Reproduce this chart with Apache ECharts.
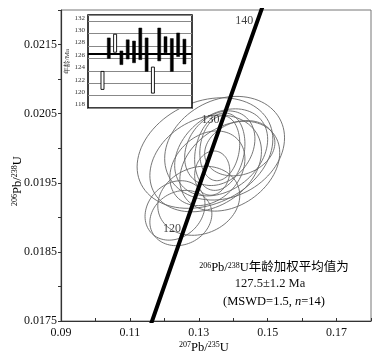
<!DOCTYPE html>
<html><head><meta charset="utf-8">
<script src="https://cdn.jsdelivr.net/npm/echarts@6/dist/echarts.min.js"></script>
<style>html,body{margin:0;padding:0;background:#fff}#c{width:386px;height:358px}</style>
</head><body><div id="c"></div>
<script>
// Error ellipses: centre (207Pb/235U, 206Pb/238U), half-widths, correlation
const ellCX  = [0.1318, 0.1375, 0.1320, 0.1365, 0.1361, 0.1361, 0.1361, 0.1339, 0.1325, 0.1300, 0.1248, 0.1231, 0.1390, 0.1419];
const ellCY  = [0.01993, 0.02000, 0.01978, 0.01994, 0.02000, 0.01995, 0.02000, 0.01964, 0.01971, 0.01924, 0.01899, 0.01910, 0.01974, 0.02000];
const ellSX  = [0.0197, 0.0174, 0.0162, 0.0135, 0.0102, 0.0073, 0.0058, 0.0051, 0.0109, 0.0119, 0.0090, 0.0087, 0.0145, 0.0102];
const ellSY  = [0.00080, 0.00075, 0.00070, 0.00063, 0.00054, 0.00056, 0.00047, 0.00032, 0.00054, 0.00050, 0.00040, 0.00043, 0.00065, 0.00040];
const ellRho = [0.25, 0.2, 0.25, 0.3, 0.25, 0.2, 0.15, 0.1, 0.25, 0.15, 0.15, 0.2, 0.3, 0.2];

// Concordia points (age in Ma)
const concAges = [110, 120, 130, 140, 150];
const concX = [0.11442, 0.12545, 0.13659, 0.14784, 0.15920];
const concY = [0.017210, 0.018789, 0.020371, 0.021955, 0.023542];
const concLabelAges = [120, 130, 140];

// Inset: 206Pb/238U ages per spot (Ma)
const spotLow  = [121.0, 126.0, 127.0, 125.0, 125.9, 125.3, 125.8, 123.9, 120.4, 125.6, 126.9, 123.9, 126.3, 125.1];
const spotHigh = [123.9, 129.3, 129.9, 127.2, 129.0, 128.8, 130.9, 129.3, 124.6, 130.9, 129.5, 129.2, 130.1, 129.1];
const spotHollow = [1, 0, 1, 0, 0, 0, 0, 0, 1, 0, 0, 0, 0, 0];
const meanAge = 126.8;

const xTicks = [0.09, 0.11, 0.13, 0.15, 0.17];
const yTicks = [0.0175, 0.0185, 0.0195, 0.0205, 0.0215];
const insetTicks = [118, 120, 122, 124, 126, 128, 130, 132];

const FONT = '"Liberation Serif", "Times New Roman", serif';
const chart = echarts.init(document.getElementById('c'), null, {renderer: 'canvas'});

const ellData = ellCX.map((v, i) => [v, ellCY[i], ellSX[i], ellSY[i], ellRho[i]]);
const concData = concX.map((v, i) => [v, concY[i]]);
const concLabelData = concLabelAges.map(a => {
  const i = concAges.indexOf(a);
  return [concX[i], concY[i], a];
});
const barData = spotLow.map((v, i) => [i + 1, v, spotHigh[i], spotHollow[i]]);

const sup = {fontSize: 8, fontFamily: FONT, color: '#111', verticalAlign: 'top', padding: [0, 0, 5, 0]};
const base = {fontSize: 12.5, fontFamily: FONT, color: '#111'};

chart.setOption({
  animation: false,
  grid: [
    {left: 61, right: 15, top: 10, bottom: 37, show: true, borderColor: '#777', borderWidth: 1},
    {left: 88, top: 15, width: 104, height: 93, show: true, backgroundColor: '#fff', borderColor: '#000', borderWidth: 1.5, z: 10}
  ],
  xAxis: [
    {type: 'value', gridIndex: 0, min: 0.09, max: 0.18, interval: 0.01,
     axisLine: {show: true, onZero: false, lineStyle: {color: '#333', width: 1.2}},
     axisTick: {show: true, inside: true, length: 3, lineStyle: {color: '#333'}},
     splitLine: {show: false},
     axisLabel: {fontFamily: FONT, fontSize: 12, color: '#111', margin: 6,
       formatter: v => { const r = Math.round(v * 100) / 100; return xTicks.some(t => Math.abs(t - r) < 1e-9) ? r.toFixed(2) : ''; }}},
    {type: 'value', gridIndex: 1, min: -1.3, max: 15.2, show: false, z: 10}
  ],
  yAxis: [
    {type: 'value', gridIndex: 0, min: 0.0175, max: 0.022, interval: 0.0005,
     axisLine: {show: true, onZero: false, lineStyle: {color: '#333', width: 1.2}},
     axisTick: {show: true, inside: false, length: 3, lineStyle: {color: '#333'}},
     splitLine: {show: false},
     axisLabel: {fontFamily: FONT, fontSize: 12, color: '#111', margin: 4,
       formatter: v => { const r = Math.round(v * 10000) / 10000; return yTicks.some(t => Math.abs(t - r) < 1e-9) ? r.toFixed(4) : ''; }}},
    {type: 'value', gridIndex: 1, min: 118, max: 133, interval: 2, z: 10,
     axisLine: {show: false}, axisTick: {show: false},
     splitLine: {show: true, lineStyle: {color: '#888', width: 1.2}},
     name: '年龄/Ma', nameLocation: 'middle', nameRotate: 90, nameGap: 16,
     nameTextStyle: {fontFamily: FONT, fontSize: 7, color: '#333'},
     axisLabel: {fontFamily: FONT, fontSize: 7, color: '#333', margin: 3, verticalAlign: 'bottom',
       formatter: v => insetTicks.indexOf(Math.round(v)) >= 0 && Math.abs(v - Math.round(v)) < 1e-9 ? String(Math.round(v)) : ''}}
  ],
  series: [
    {type: 'custom', xAxisIndex: 0, yAxisIndex: 0, data: ellData, z: 2, clip: true,
     encode: {x: 0, y: 1},
     renderItem: (params, api) => {
       const cx = api.value(0), cy = api.value(1), sx = api.value(2), sy = api.value(3), r = api.value(4);
       const q = Math.sqrt(1 - r * r);
       const pts = [];
       for (let k = 0; k <= 90; k++) {
         const t = k / 90 * Math.PI * 2;
         pts.push(api.coord([cx + sx * Math.cos(t), cy + sy * (r * Math.cos(t) + q * Math.sin(t))]));
       }
       return {type: 'polygon', shape: {points: pts}, style: {fill: null, stroke: '#666', lineWidth: 0.9}};
     }},
    {type: 'line', xAxisIndex: 0, yAxisIndex: 0, data: concData, showSymbol: false, smooth: true, clip: true, z: 3,
     lineStyle: {color: '#000', width: 4}},
    {type: 'scatter', xAxisIndex: 0, yAxisIndex: 0, data: concLabelData, symbolSize: 0, z: 4,
     label: {show: true, position: 'left', distance: 2, fontFamily: FONT, fontSize: 12, color: '#111',
       formatter: p => String(p.value[2])},
     labelLayout: p => {
       if (p.dataIndex === 2) return {dy: 8, dx: -5};
       return {dy: -3, dx: 0};
     }},
    {type: 'custom', xAxisIndex: 1, yAxisIndex: 1, data: barData, z: 12, clip: true,
     encode: {x: 0, y: [1, 2]},
     renderItem: (params, api) => {
       const lo = api.coord([api.value(0), api.value(1)]);
       const hi = api.coord([api.value(0), api.value(2)]);
       const hollow = api.value(3) === 1;
       const w = 3;
       return {type: 'rect', shape: {x: lo[0] - w / 2, y: hi[1], width: w, height: lo[1] - hi[1]},
         style: hollow ? {fill: '#fff', stroke: '#000', lineWidth: 0.9} : {fill: '#000', stroke: '#000', lineWidth: 0.5}};
     },
     markLine: {silent: true, symbol: 'none', label: {show: false}, z: 11,
       lineStyle: {color: '#000', width: 2, type: 'solid'},
       data: [{yAxis: meanAge}]}}
  ],
  graphic: [
    {type: 'text', left: 179, top: 341, z: 20,
     style: {text: '{s|207}{b|Pb/}{s|235}{b|U}', rich: {s: sup, b: base}}},
    {type: 'text', x: 11, y: 206, rotation: Math.PI / 2, z: 20,
     style: {text: '{s|206}{b|Pb/}{s|238}{b|U}', rich: {s: sup, b: base}}},
    {type: 'text', x: 274, y: 268, z: 20,
     style: {text: '{s|206}{b|Pb/}{s|238}{b|U年龄加权平均值为}', align: 'center', verticalAlign: 'middle',
       rich: {s: sup, b: {fontSize: 12.5, fontFamily: '"Liberation Serif", "Noto Sans CJK SC", serif', color: '#111'}}}},
    {type: 'text', x: 270, y: 284, z: 20,
     style: {text: '127.5±1.2 Ma', align: 'center', verticalAlign: 'middle', font: '12.5px ' + FONT, fill: '#111'}},
    {type: 'text', x: 274, y: 302, z: 20,
     style: {text: '{b|(MSWD=1.5, }{i|n}{b|=14)}', align: 'center', verticalAlign: 'middle',
       rich: {b: base, i: {fontSize: 12.5, fontFamily: FONT, fontStyle: 'italic', color: '#111'}}}}
  ]
});
</script>
</body></html>
